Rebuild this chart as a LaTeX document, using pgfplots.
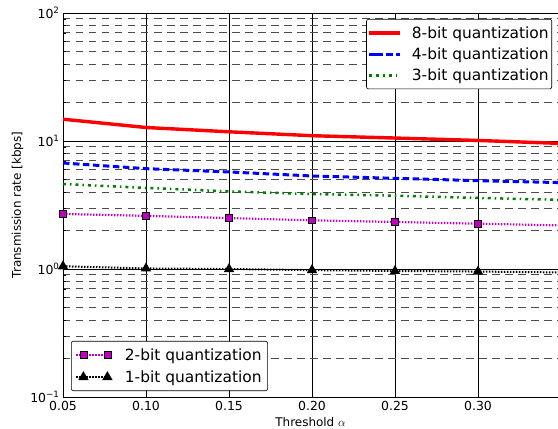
\documentclass[border=0pt]{standalone}
\usepackage{pgfplots}
\pgfplotsset{compat=1.18}
\usepackage{fontspec}
\setmainfont{DejaVu Sans}
\usetikzlibrary{calc}

\definecolor{mplgreen}{rgb}{0,0.5,0}
\definecolor{mplmag}{rgb}{0.75,0,0.75}

\pgfplotsset{
  legend image code/.code={%
    \path (-7bp,0bp) -- (0bp,0bp);
    \draw[mark repeat=1,#1] plot coordinates {(0bp,0bp) (24bp,0bp)};},
}

\begin{document}
\begin{tikzpicture}
\begin{axis}[
    scale only axis,
    width=495bp, height=384bp,
    at={(0,0)}, anchor=south west,
    xmin=0.05, xmax=0.3482,
    ymode=log, ymin=0.1, ymax=100,
    axis x line*=box, axis y line*=left,
    axis line style={line width=0.8bp},
    xtick={0.05,0.10,0.15,0.20,0.25,0.30},
    xticklabels={0.05,0.10,0.15,0.20,0.25,0.30},
    ytick={0.1,1,10,100},
    yticklabels={10\textsuperscript{−1},10\textsuperscript{0},10\textsuperscript{1},10\textsuperscript{2}},
    minor ytick={0.2,0.3,0.4,0.5,0.6,0.7,0.8,0.9,2,3,4,5,6,7,8,9,20,30,40,50,60,70,80,90},
    tick align=inside,
    major tick length=6bp, minor tick length=3bp,
    tick style={black, line width=0.6bp},
    xmajorgrids, ymajorgrids, yminorgrids,
    major grid style={black, line width=0.6bp},
    minor grid style={black!70, line width=0.8bp, dash pattern=on 7.5bp off 5.5bp},
    ticklabel style={font=\fontsize{12.5}{15}\selectfont},
    xticklabel style={yshift=-1bp},
    xlabel={Threshold $\alpha$},
    ylabel={Transmission rate [kbps]},
    label style={font=\fontsize{12}{14}\selectfont},
    legend style={draw=black, line width=0.6bp, rounded corners=2bp, fill=white,
      font=\fontsize{15.5}{18}\selectfont, inner xsep=1bp, inner ysep=5bp,
      row sep=4bp, column sep=8bp,
      at={(1,1)}, anchor=north east, xshift=-6bp, yshift=-6bp},
    legend cell align=left,
  ]
  \addplot[red, line width=3.4bp] coordinates {
    (0.05,14.8) (0.10,12.75) (0.15,11.8) (0.20,11.0) (0.25,10.55) (0.30,10.1) (0.35,9.57)};
  \addlegendentry{8-bit quantization}
  \addplot[blue, line width=3bp, dash pattern=on 6.5bp off 3.5bp] coordinates {
    (0.05,6.73) (0.10,6.08) (0.15,5.73) (0.20,5.33) (0.25,5.11) (0.30,4.90) (0.35,4.73)};
  \addlegendentry{4-bit quantization}
  \addplot[mplgreen, line width=2.5bp, dash pattern=on 3bp off 4bp on 1.5bp off 4bp] coordinates {
    (0.05,4.61) (0.10,4.30) (0.15,4.04) (0.20,3.85) (0.25,3.74) (0.30,3.59) (0.35,3.47)};
  \addlegendentry{3-bit quantization}
  \coordinate (sw) at (rel axis cs:0,0);
  \coordinate (ne) at (rel axis cs:1,1);
\end{axis}
\begin{axis}[
    scale only axis,
    width=495bp, height=384bp,
    at={(0,0)}, anchor=south west,
    xmin=0.05, xmax=0.3482,
    ymode=log, ymin=0.1, ymax=100,
    hide axis,
    legend style={draw=black, line width=0.6bp, rounded corners=2bp, fill=white,
      font=\fontsize{15.5}{18}\selectfont, inner xsep=4bp, inner ysep=5bp,
      row sep=5bp, column sep=12bp,
      at={(0,0)}, anchor=south west, xshift=8bp, yshift=6bp},
    legend cell align=left,
  ]
  \addplot[mplmag, line width=2.2bp, dash pattern=on 1.5bp off 1.5bp,
    mark=square*, mark size=3.4bp,
    mark options={solid, fill=mplmag, draw=black, line width=0.6bp}] coordinates {
    (0.05,2.69) (0.10,2.60) (0.15,2.50) (0.20,2.40) (0.25,2.33) (0.30,2.26) (0.35,2.19)};
  \addlegendentry{2-bit quantization}
  \addplot[black, line width=2bp, dash pattern=on 1.5bp off 1.5bp,
    mark=triangle*, mark size=4bp,
    mark options={solid, fill=black}] coordinates {
    (0.05,1.05) (0.10,1.01) (0.15,1.00) (0.20,0.98) (0.25,0.965) (0.30,0.955) (0.35,0.94)};
  \addlegendentry{1-bit quantization}
\end{axis}
\pgfresetboundingbox
\path[use as bounding box] ($(sw)+(-63bp,-32bp)$) rectangle ($(ne)+(0bp,13bp)$);
\end{tikzpicture}
\end{document}
